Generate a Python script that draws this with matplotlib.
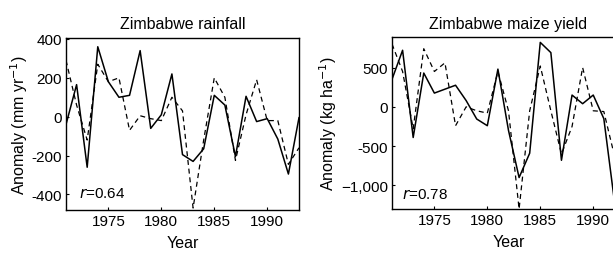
import matplotlib
matplotlib.use("Agg")
import matplotlib.pyplot as plt

plt.rcParams['font.family'] = ['Liberation Sans', 'DejaVu Sans']

years = list(range(1971, 1994))

rain_obs = [-40, 165, -260, 360, 180, 100, 110, 340, -60, 10, 220, -195, -230,
            -165, 110, 60, -205, 105, -25, -10, -115, -295, -5]
rain_model = [290, 60, -120, 270, 180, 200, -70, 5, -10, -20, 100, 30, -470,
              -120, 200, 100, -225, 10, 190, -20, -20, -245, -160]

maize_years = list(range(1971, 1993))
maize_obs = [350, 720, -390, 430, 175, 225, 275, 80, -155, -240, 480, -300, -900,
             -590, 820, 690, -680, 150, 40, 150, -150, -1200]
maize_model = [800, 450, -280, 740, 450, 560, -240, 0, -50, -80, 450, -50, -1300,
               -50, 520, -50, -600, -250, 500, -50, -60, -620]

x_ticks = [1975, 1980, 1985, 1990]
x_ticklabels = ['1975', '1980', '1985', '1990']
rain_yticks = [400, 200, 0, -200, -400]
rain_yticklabels = ['400', '200', '0', '-200', '-400']
maize_yticks = [500, 0, -500, -1000]
maize_yticklabels = ['500', '0', '-500', '\u22121,000']

fig = plt.figure(figsize=(6.13, 2.55), dpi=100)

ax1 = fig.add_axes([66/613, 1-211/255, 233/613, 172/255])
ax2 = fig.add_axes([392/613, 1-210/255, 233/613, 171.7/255])

def style(ax):
    for s in ax.spines.values():
        s.set_linewidth(1.0)
        s.set_color('black')
    ax.tick_params(direction='in', length=2.5, width=0.8, labelsize=11, pad=3)

ax1.plot(years, rain_obs, color='black', lw=1.1)
ax1.plot(years, rain_model, color='black', lw=0.9, ls=(0, (4, 3)))
ax1.set_xlim(1971, 1993)
ax1.set_ylim(-480, 405)
ax1.set_xticks(x_ticks)
ax1.set_xticklabels(x_ticklabels)
ax1.set_yticks(rain_yticks)
ax1.set_yticklabels(rain_yticklabels)
ax1.set_title('Zimbabwe rainfall', fontsize=11.5, pad=7)
ax1.set_xlabel('Year', fontsize=11.5, labelpad=5)
ax1.set_ylabel('Anomaly (mm yr$^{-1}$)', fontsize=11.5, labelpad=1)
ax1.text(0.055, 0.1, r'$\it{r}$=0.64', transform=ax1.transAxes, fontsize=11,
         va='center', ha='left')
style(ax1)

ax2.plot(maize_years, maize_obs, color='black', lw=1.1)
ax2.plot(maize_years, maize_model, color='black', lw=0.9, ls=(0, (4, 3)))
ax2.set_xlim(1971, 1993)
ax2.set_ylim(-1300, 885)
ax2.set_xticks(x_ticks)
ax2.set_xticklabels(x_ticklabels)
ax2.set_yticks(maize_yticks)
ax2.set_yticklabels(maize_yticklabels)
ax2.set_title('Zimbabwe maize yield', fontsize=11.5, pad=7)
ax2.set_xlabel('Year', fontsize=11.5, labelpad=5)
ax2.set_ylabel('Anomaly (kg ha$^{-1}$)', fontsize=11.5, labelpad=1)
ax2.text(0.045, 0.09, r'$\it{r}$=0.78', transform=ax2.transAxes, fontsize=11,
         va='center', ha='left')
style(ax2)

fig.savefig('out.png', dpi=100)
